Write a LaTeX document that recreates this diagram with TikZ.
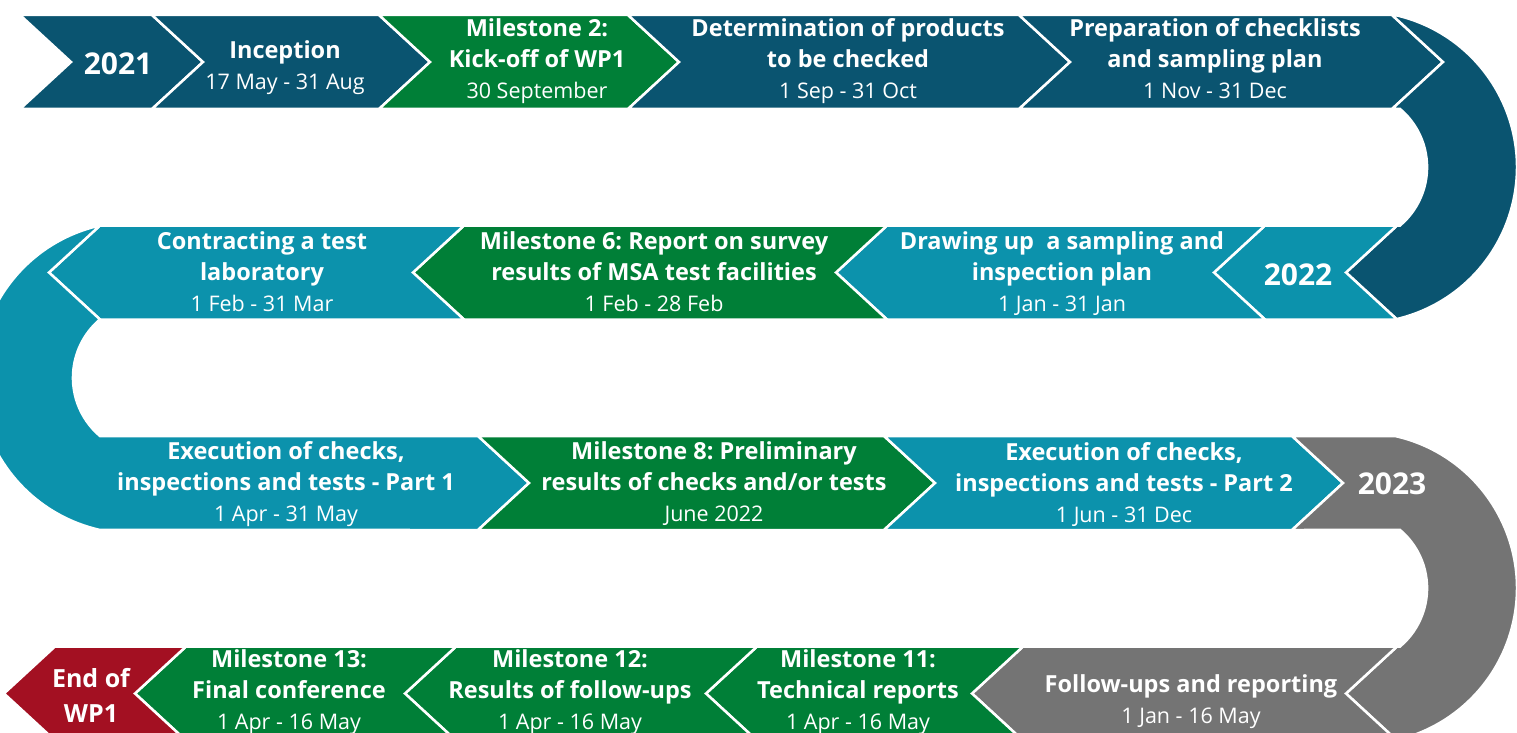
\documentclass[tikz,border=0pt]{standalone}
\usepackage{fontspec}
\setmainfont{Open Sans}
\frenchspacing
\definecolor{dkblue}{HTML}{0A5470}
\definecolor{tblue}{HTML}{0C92AC}
\definecolor{msgreen}{HTML}{007F37}
\definecolor{grey}{HTML}{747474}
\definecolor{endred}{HTML}{A31022}
\newcommand{\datetxt}[1]{{\fontsize{21.5}{31}\selectfont\mdseries #1}}

\begin{document}
\begin{tikzpicture}[x=1pt,y=-1pt,
    seg/.style={draw=white,line width=2.5pt,line join=miter},
    lbl/.style={anchor=base,align=center,text=white,inner sep=0pt,font=\fontsize{23.5}{31}\selectfont\bfseries},
    year/.style={anchor=base,text=white,inner sep=0pt,font=\fontsize{30}{36}\selectfont\bfseries}]
      \clip (0,0) rectangle (1517,733);
      % row 1, 2021
      \fill[dkblue,seg] (20,15) -- (152,15) -- (203,62) -- (152,109) -- (20,109) -- (71,62) -- cycle;
      \fill[dkblue,seg] (152,15) -- (379,15) -- (430,62) -- (379,109) -- (152,109) -- (203,62) -- cycle;
      \fill[msgreen,seg] (379,15) -- (628,15) -- (679,62) -- (628,109) -- (379,109) -- (430,62) -- cycle;
      \fill[dkblue,seg] (628,15) -- (1019,15) -- (1070,62) -- (1019,109) -- (628,109) -- (679,62) -- cycle;
      \fill[dkblue,seg] (1019,15) -- (1392,15) -- (1443,62) -- (1392,109) -- (1019,109) -- (1070,62) -- cycle;
      % turn to row 2
      \fill[dkblue,seg] (1392,15) -- (1395,15) arc[start angle=77.4,end angle=-77.4,radius=156pt]
        -- (1397,319.5) -- (1346,272.5) -- (1397,225.5) -- (1400,225.5)
        arc[start angle=-49.8,end angle=49.8,radius=76.3pt] -- (1392,109) -- (1443,62) -- cycle;
      % row 2, 2022
      \fill[tblue,seg] (1265,225.5) -- (1397,225.5) -- (1346,272.5) -- (1397,319.5) -- (1265,319.5) -- (1214,272.5) -- cycle;
      \fill[tblue,seg] (887,225.5) -- (1265,225.5) -- (1214,272.5) -- (1265,319.5) -- (887,319.5) -- (836,272.5) -- cycle;
      \fill[msgreen,seg] (464,225.5) -- (887,225.5) -- (836,272.5) -- (887,319.5) -- (464,319.5) -- (413,272.5) -- cycle;
      \fill[tblue,seg] (100,225.5) -- (464,225.5) -- (413,272.5) -- (464,319.5) -- (100,319.5) -- (49,272.5) -- cycle;
      % turn to row 3 (no border to part 1)
      \fill[tblue,seg] (100,225.5) arc[start angle=102.6,end angle=257.4,radius=156pt]
        -- (478,530) -- (529,483) -- (478,436) -- (100,436)
        arc[start angle=229.8,end angle=130.2,radius=76.3pt] -- (49,272.5) -- cycle;
      \fill[msgreen,seg] (478,436) -- (884,436) -- (935,483) -- (884,530) -- (478,530) -- (529,483) -- cycle;
      \fill[tblue,seg] (884,436) -- (1292,436) -- (1343,483) -- (1292,530) -- (884,530) -- (935,483) -- cycle;
      % 2023 turn to row 4
      \fill[grey,seg] (1292,436) -- (1395,436) arc[start angle=77.4,end angle=-77.4,radius=156pt]
        -- (1397,740.5) -- (1346,693.5) -- (1397,646.5) -- (1400,646.5)
        arc[start angle=-49.8,end angle=49.8,radius=76.3pt] -- (1292,530) -- (1343,483) -- cycle;
      % row 4
      \fill[grey,seg] (1023,646.5) -- (1397,646.5) -- (1346,693.5) -- (1397,740.5) -- (1023,740.5) -- (972,693.5) -- cycle;
      \fill[msgreen,seg] (757,646.5) -- (1023,646.5) -- (972,693.5) -- (1023,740.5) -- (757,740.5) -- (706,693.5) -- cycle;
      \fill[msgreen,seg] (456,646.5) -- (757,646.5) -- (706,693.5) -- (757,740.5) -- (456,740.5) -- (405,693.5) -- cycle;
      \fill[msgreen,seg] (186,646.5) -- (456,646.5) -- (405,693.5) -- (456,740.5) -- (186,740.5) -- (135,693.5) -- cycle;
      \fill[endred,seg] (55,646.5) -- (186,646.5) -- (135,693.5) -- (186,740.5) -- (55,740.5) -- (4,693.5) -- cycle;

      % labels: base = last line
      \node[year] (yr21) at (118,75) {2021};
      \node[lbl] (inc) at (285,90) {Inception\\\datetxt{17 May - 31 Aug}};
      \node[lbl] (ms2) at (537,98.5) {Milestone 2:\\Kick-off of WP1\\\datetxt{30 September}};
      \node[lbl] (det) at (848,98.5) {Determination of products\\to be checked\\\datetxt{1 Sep - 31 Oct}};
      \node[lbl] (prep) at (1215,98.5) {Preparation of checklists\\and sampling plan\\\datetxt{1 Nov - 31 Dec}};

      \node[year] (yr22) at (1298,285) {2022};
      \node[lbl] (drw) at (1062,311.5) {Drawing up\ \ a sampling and\\inspection plan\\\datetxt{1 Jan - 31 Jan}};
      \node[lbl] (ms6) at (654,311.5) {Milestone 6: Report on survey\\results of MSA test facilities\\\datetxt{1 Feb - 28 Feb}};
      \node[lbl] (con) at (262,311.5) {Contracting a test\\laboratory\\\datetxt{1 Feb - 31 Mar}};

      \node[lbl] (ex1) at (286,521) {Execution of checks,\\inspections and tests - Part 1\\\datetxt{1 Apr - 31 May}};
      \node[lbl] (ms8) at (714,521) {Milestone 8: Preliminary\\results of checks and/or tests\\\datetxt{June 2022}};
      \node[lbl] (ex2) at (1124,522) {Execution of checks,\\inspections and tests - Part 2\\\datetxt{1 Jun - 31 Dec}};
      \node[year] (yr23) at (1392,494) {2023};

      \node[lbl] (fol) at (1191,723) {Follow-ups and reporting\\\datetxt{1 Jan - 16 May}};
      \node[lbl] (ms11) at (858,729) {Milestone 11:\\Technical reports\\\datetxt{1 Apr - 16 May}};
      \node[lbl] (ms12) at (570,729) {Milestone 12:\\Results of follow-ups\\\datetxt{1 Apr - 16 May}};
      \node[lbl] (ms13) at (289,729) {Milestone 13:\\Final conference\\\datetxt{1 Apr - 16 May}};
      \node[lbl,font=\fontsize{25}{35}\selectfont\bfseries] (endwp) at (91,722) {End of\\WP1};
    \end{tikzpicture}
\end{document}
